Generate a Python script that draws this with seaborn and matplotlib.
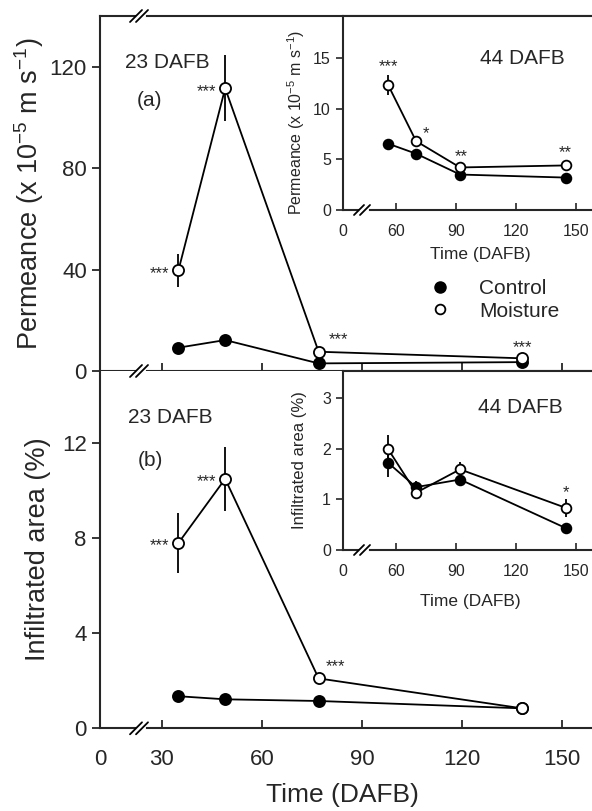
import matplotlib
matplotlib.use('Agg')
import matplotlib.pyplot as plt
from matplotlib.lines import Line2D
import seaborn as sns

# ---- data ----
days_main = [35, 49, 77, 138]
perm_control = [9.2, 12.2, 3.0, 3.5]
perm_moisture = [39.7, 111.5, 7.6, 5.0]
perm_moisture_err = [6.5, 13.0, 0, 0]
area_control = [1.35, 1.22, 1.15, 0.84]
area_control_err = [0.2, 0, 0, 0]
area_moisture = [7.8, 10.5, 2.1, 0.84]
area_moisture_err = [1.25, 1.35, 0.15, 0]

days_inset = [56, 70, 92, 145]
perm44_control = [6.55, 5.56, 3.5, 3.2]
perm44_moisture = [12.35, 6.8, 4.2, 4.4]
perm44_moisture_err = [1.0, 0, 0, 0]
area44_control = [1.72, 1.24, 1.39, 0.43]
area44_control_err = [0.28, 0.12, 0, 0]
area44_moisture = [1.99, 1.13, 1.59, 0.83]
area44_moisture_err = [0.28, 0.12, 0.15, 0.17]

main_xticks = [30, 60, 90, 120, 150]
inset_xticks = [60, 90, 120, 150]

sns.set_style('ticks')
plt.rcParams['font.family'] = ['Liberation Sans', 'DejaVu Sans']
plt.rcParams['mathtext.fontset'] = 'custom'
plt.rcParams['mathtext.rm'] = 'Liberation Sans'
plt.rcParams['axes.linewidth'] = 1.5

W, H = 592, 811
fig = plt.figure(figsize=(W / 100, H / 100), dpi=100)


def box(l, t, r, b):
    return [l / W, 1 - b / H, (r - l) / W, (b - t) / H]


ax_a = fig.add_axes(box(100, 16, 592, 371))
ax_b = fig.add_axes(box(100, 371, 592, 728.3))
in_a = fig.add_axes(box(342.7, 16, 592, 210))
in_b = fig.add_axes(box(342.7, 371, 592, 550))


def draw_series(ax, x, y, err, filled, ms):
    ax.errorbar(x, y, yerr=err, fmt='none', ecolor='black', elinewidth=1.3,
                capsize=0, zorder=2)
    sns.lineplot(x=x, y=y, ax=ax, color='black', lw=1.3, marker='o',
                 markersize=ms, markerfacecolor='black' if filled else 'white',
                 markeredgecolor='black', markeredgewidth=1.3, zorder=3)


def star(ax, x, y, s, dx, dy, size=12, ha='center'):
    ax.annotate(s, (x, y), xytext=(dx, dy), textcoords='offset pixels',
                ha=ha, va='center', fontsize=size)


# main panels
for ax in (ax_a, ax_b):
    ax.set_xlim(11.5, 158.9)
    ax.set_xticks([11.5] + main_xticks)
    ax.set_xticklabels(['0'] + [str(t) for t in main_xticks])
    ax.spines['right'].set_visible(False)
    ax.tick_params(axis='x', direction='in', length=6, width=1.3, labelsize=16, pad=15)
    ax.tick_params(axis='y', direction='out', length=6, width=1.3, labelsize=16)

draw_series(ax_a, days_main, perm_control, None, True, 8)
draw_series(ax_a, days_main, perm_moisture, perm_moisture_err, False, 8)
ax_a.set_ylim(0, 140)
ax_a.set_yticks([0, 40, 80, 120])
ax_a.tick_params(axis='x', labelbottom=False)
ax_a.set_ylabel('Permeance (x 10$^{\\mathregular{-5}}$ m s$^{\\mathregular{-1}}$)', fontsize=19.5)
ax_a.yaxis.set_label_coords(-0.11, 0.5)

draw_series(ax_b, days_main, area_control, area_control_err, True, 8)
draw_series(ax_b, days_main, area_moisture, area_moisture_err, False, 8)
ax_b.set_ylim(0, 15.04)
ax_b.set_yticks([0, 4, 8, 12])
ax_b.spines['top'].set_visible(False)
ax_b.set_ylabel('Infiltrated area (%)', fontsize=19.5)
ax_b.yaxis.set_label_coords(-0.1, 0.5)
ax_b.set_xlabel('Time (DAFB)', fontsize=19)
ax_b.xaxis.set_label_coords(0.492, -0.152)

# insets
for ax in (in_a, in_b):
    ax.set_xlim(33.3, 158)
    ax.set_xticks([33.3] + inset_xticks)
    ax.set_xticklabels(['0'] + [str(t) for t in inset_xticks])
    ax.spines['right'].set_visible(False)
    ax.tick_params(axis='x', direction='in', length=5, width=1.2, labelsize=11.5, pad=10)
    ax.tick_params(axis='y', direction='out', length=5, width=1.2, labelsize=11.5)
    ax.set_xlabel('Time (DAFB)', fontsize=12.5)
    ax.set_facecolor('white')

draw_series(in_a, days_inset, perm44_control, None, True, 7)
draw_series(in_a, days_inset, perm44_moisture, perm44_moisture_err, False, 7)
in_a.set_ylim(0, 19.15)
in_a.set_yticks([0, 5, 10, 15])
in_a.set_ylabel('Permeance (x 10$^{\\mathregular{-5}}$ m s$^{\\mathregular{-1}}$)', fontsize=11.5)
in_a.yaxis.set_label_coords(-0.143, 0.45)
in_a.xaxis.set_label_coords(0.551, -0.19)

draw_series(in_b, days_inset, area44_control, area44_control_err, True, 7)
draw_series(in_b, days_inset, area44_moisture, area44_moisture_err, False, 7)
in_b.set_ylim(0, 3.53)
in_b.set_yticks([0, 1, 2, 3])
in_b.set_ylabel('Infiltrated area (%)', fontsize=12)
in_b.yaxis.set_label_coords(-0.143, 0.5)
in_b.xaxis.set_label_coords(0.51, -0.245)

# significance stars
star(ax_a, 35, 39.7, '***', -9, -3, ha='right')
star(ax_a, 49, 111.5, '***', -9, -3, ha='right')
star(ax_a, 77, 7.6, '***', 20, 12)
star(ax_a, 138, 5.0, '***', 0, 11)
star(ax_b, 35, 7.8, '***', -9, -3, ha='right')
star(ax_b, 49, 10.5, '***', -9, -3, ha='right')
star(ax_b, 77, 2.1, '***', 17, 12)
star(in_a, 56, 12.35, '***', 0, 18)
star(in_a, 70, 6.8, '*', 10, 7)
star(in_a, 92, 4.2, '**', 1, 11)
star(in_a, 145, 4.4, '**', -1, 13)
star(in_b, 145, 0.83, '*', 0, 15)

# panel texts
fig.text(167 / W, 1 - 62 / H, '23 DAFB', fontsize=15, ha='center', va='center')
fig.text(149 / W, 1 - 100 / H, '(a)', fontsize=15, ha='center', va='center')
fig.text(170 / W, 1 - 417 / H, '23 DAFB', fontsize=15, ha='center', va='center')
fig.text(150 / W, 1 - 460 / H, '(b)', fontsize=15, ha='center', va='center')
fig.text(522 / W, 1 - 59 / H, '44 DAFB', fontsize=15, ha='center', va='center')
fig.text(520 / W, 1 - 408 / H, '44 DAFB', fontsize=15, ha='center', va='center')

# legend
handles = [Line2D([], [], ls='none', marker='o', ms=8, mfc='black', mec='black'),
           Line2D([], [], ls='none', marker='o', ms=7, mfc='white', mec='black', mew=1.3)]
fig.legend(handles, ['Control', 'Moisture'], loc='upper left',
           bbox_to_anchor=(419 / W, 1 - 269 / H), frameon=False, fontsize=15,
           handlelength=1.0, handletextpad=1.4, labelspacing=0.15, borderpad=0)


# axis break marks
def brk(x, y, size=6):
    fig.add_artist(Line2D([(x - 3) / W, (x + 3) / W], [1 - y / H, 1 - y / H],
                          color='white', lw=3, transform=fig.transFigure))
    for off in (-5, 1):
        fig.add_artist(Line2D([(x + off - size) / W, (x + off + size) / W],
                              [1 - (y + size) / H, 1 - (y - size) / H],
                              color='black', lw=1.3, transform=fig.transFigure))


brk(141, 16)
brk(141, 371)
brk(141, 728.3)
brk(364, 210, 5)
brk(364, 550, 5)

fig.savefig('out.png', dpi=100)
